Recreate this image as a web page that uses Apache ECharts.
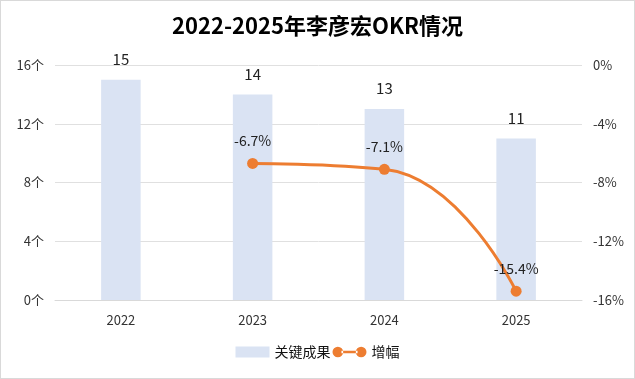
<!DOCTYPE html>
<html><head><meta charset="utf-8">
<script src="https://cdn.jsdelivr.net/npm/echarts@6/dist/echarts.min.js"></script>
<style>html,body{margin:0;padding:0;background:#fff}#c{width:633px;height:377px;border:1px solid #d9d9d9}</style>
</head><body><div id="c"></div>
<script>
const categories = ['2022','2023','2024','2025'];
const keyResults = [15,14,13,11];
const growth = [null,-6.7,-7.1,-15.4];
const leftTicks = [0,4,8,12,16];
const rightTicks = [-16,-12,-8,-4,0];
const font = '"Microsoft YaHei","Noto Sans CJK SC","Liberation Sans",sans-serif';
const lineIcon = 'path://M0,6a6,6 0 1,0 12,0a6,6 0 1,0 -12,0z M10,4.6h18v2.8h-18z M26,6a6,6 0 1,0 12,0a6,6 0 1,0 -12,0z';
const chart = echarts.init(document.getElementById('c'));
chart.setOption({
  animation:false,
  textStyle:{fontFamily:font},
  title:{text:'2022-2025年李彦宏OKR情况',left:'center',top:9,textStyle:{fontSize:22,fontWeight:'bold',color:'#000',fontFamily:font}},
  grid:{left:54,right:52,top:64,bottom:78,containLabel:false},
  legend:{bottom:14,left:'center',itemGap:2,itemWidth:34,itemHeight:11,textStyle:{fontSize:14,color:'#111'},
    data:[{name:'关键成果',icon:'rect'},{name:'增幅',icon:lineIcon,itemStyle:{color:'#ed7d31'}}]},
  xAxis:{type:'category',data:categories,axisLine:{lineStyle:{color:'#d9d9d9'}},axisTick:{show:false},
    axisLabel:{fontSize:13,color:'#333',margin:14}},
  yAxis:[
    {type:'value',min:leftTicks[0],max:leftTicks[leftTicks.length-1],interval:4,
     axisLabel:{formatter:'{value}个',fontSize:13,color:'#333',margin:11},
     splitLine:{lineStyle:{color:'#e0e0e0'}},axisLine:{show:false},axisTick:{show:false}},
    {type:'value',min:rightTicks[0],max:rightTicks[rightTicks.length-1],interval:4,
     axisLabel:{formatter:'{value}%',fontSize:13,color:'#333',margin:11},
     splitLine:{show:false},axisLine:{show:false},axisTick:{show:false}}
  ],
  series:[
    {name:'关键成果',type:'bar',data:keyResults,barWidth:'30%',itemStyle:{color:'#dae3f3'},
     label:{show:true,position:'top',fontSize:15,color:'#222',distance:13}},
    {name:'增幅',type:'line',yAxisIndex:1,data:growth,smooth:true,symbol:'circle',symbolSize:11,
     lineStyle:{color:'#ed7d31',width:3},itemStyle:{color:'#ed7d31'},
     label:{show:true,position:'top',formatter:p=>p.value+'%',fontSize:14,color:'#222',distance:10}}
  ]
});
</script></body></html>
